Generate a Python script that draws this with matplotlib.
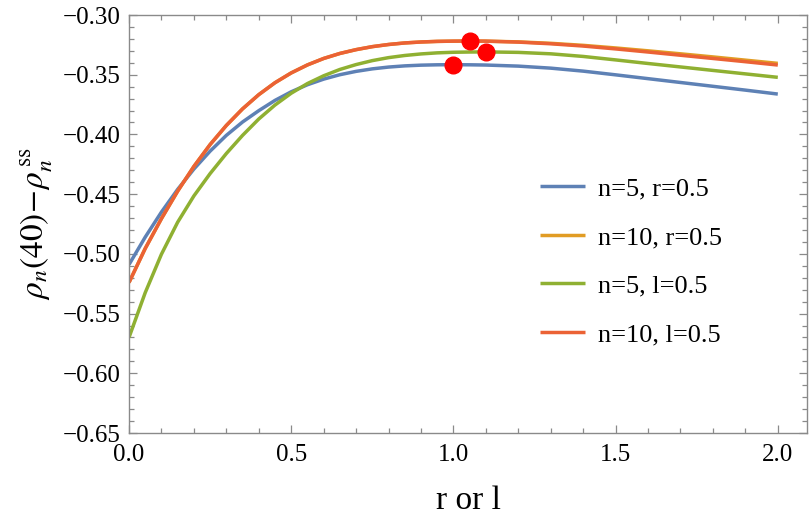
import matplotlib
matplotlib.use("Agg")
import matplotlib.pyplot as plt
from matplotlib.ticker import MultipleLocator, FuncFormatter

plt.rcParams['font.family'] = ['Liberation Serif', 'DejaVu Serif']
plt.rcParams['mathtext.fontset'] = 'stix'

# ---- data ----
x_pts = [0.00, 0.05, 0.10, 0.15, 0.20, 0.25, 0.30, 0.35, 0.40, 0.45, 0.50,
         0.55, 0.60, 0.65, 0.70, 0.75, 0.80, 0.85, 0.90, 0.95, 1.00, 1.05,
         1.10, 1.20, 1.30, 1.40, 1.50, 1.60, 1.70, 1.80, 1.90, 2.00]

blue_n5_r = [-0.509, -0.486, -0.465, -0.446, -0.429, -0.414, -0.4008, -0.3896,
             -0.3801, -0.3715, -0.3643, -0.3584, -0.3537, -0.3500, -0.3472,
             -0.3451, -0.3436, -0.3426, -0.3420, -0.3417, -0.3416, -0.3417,
             -0.3419, -0.3428, -0.3445, -0.3470, -0.3501, -0.3533, -0.3565,
             -0.3597, -0.3629, -0.3662]

orange_n10_r = [-0.524, -0.4955, -0.4705, -0.4475, -0.4268, -0.4085, -0.3925,
                -0.3786, -0.3667, -0.3567, -0.3485, -0.3418, -0.3364, -0.3322,
                -0.3290, -0.3265, -0.3247, -0.3234, -0.3226, -0.3221, -0.3219,
                -0.3218, -0.3219, -0.3225, -0.3237, -0.3254, -0.3276, -0.3300,
                -0.3325, -0.3351, -0.3378, -0.3405]

green_n5_l = [-0.570, -0.5325, -0.5003, -0.4735, -0.4515, -0.4328, -0.4160,
              -0.4008, -0.3871, -0.3754, -0.3655, -0.3574, -0.3509, -0.3456,
              -0.3415, -0.3382, -0.3357, -0.3339, -0.3326, -0.3317, -0.3312,
              -0.3310, -0.3309, -0.3313, -0.3325, -0.3347, -0.3376, -0.3406,
              -0.3435, -0.3464, -0.3493, -0.3522]

red_n10_l = [-0.524, -0.4955, -0.4705, -0.4475, -0.4268, -0.4085, -0.3925,
             -0.3786, -0.3667, -0.3567, -0.3485, -0.3418, -0.3364, -0.3322,
             -0.3290, -0.3265, -0.3247, -0.3234, -0.3226, -0.3221, -0.3219,
             -0.3218, -0.3219, -0.3227, -0.3241, -0.3260, -0.3284, -0.3310,
             -0.3337, -0.3364, -0.3391, -0.3419]

labels = ["n=5, r=0.5", "n=10, r=0.5", "n=5, l=0.5", "n=10, l=0.5"]
colors = ["#5E81B5", "#E19C24", "#8FB032", "#EB6235"]

dots_x = [1.00, 1.05, 1.10]
dots_y = [-0.3416, -0.3218, -0.3309]

x_ticks = [0.0, 0.5, 1.0, 1.5, 2.0]
y_ticks = [-0.65, -0.60, -0.55, -0.50, -0.45, -0.40, -0.35, -0.30]

# ---- figure ----
fig = plt.figure(figsize=(8.1, 5.23), dpi=100)
ax = fig.add_axes([129/810, 1-433/523, (807-129)/810, (433-15)/523])

series = [blue_n5_r, orange_n10_r, green_n5_l, red_n10_l]
for ys, c, lab in zip(series, colors, labels):
    ax.plot(x_pts, ys, color=c, lw=2.5, label=lab, solid_capstyle='butt',
            solid_joinstyle='round')

ax.plot(dots_x, dots_y, 'o', color='#FF0000', markersize=12, zorder=5)

ax.set_xlim(0, 2.09)
ax.set_ylim(-0.65, -0.30)
ax.set_xticks(x_ticks)
ax.set_yticks(y_ticks)
ax.xaxis.set_minor_locator(MultipleLocator(0.1))
ax.yaxis.set_minor_locator(MultipleLocator(0.01))
ax.xaxis.set_major_formatter(FuncFormatter(lambda v, p: f"{v:.1f}".replace('-', '\u2212')))
ax.yaxis.set_major_formatter(FuncFormatter(lambda v, p: f"{v:.2f}".replace('-', '\u2212')))

frame_c = '#8a8a8a'
for s in ax.spines.values():
    s.set_color(frame_c)
    s.set_linewidth(1.0)
ax.tick_params(which='both', direction='in', top=True, right=True,
               color=frame_c, labelsize=18, labelcolor='black', width=0.9)
ax.tick_params(which='major', length=6)
ax.tick_params(which='minor', length=3.5)
ax.tick_params(axis='x', pad=8)
ax.tick_params(axis='y', pad=6)

ax.set_xlabel("r or l", fontsize=24, labelpad=14)
ax.set_ylabel(r"$\rho_n(40)\!-\!\rho_n^{\,\mathrm{ss}}$", fontsize=24, labelpad=6)

ax.legend(loc='center left', bbox_to_anchor=(0.606, 0.41), frameon=False,
          fontsize=19, handlelength=1.7, handletextpad=0.5, labelspacing=0.95,
          borderpad=0, borderaxespad=0)

fig.savefig("out.png", dpi=100)
